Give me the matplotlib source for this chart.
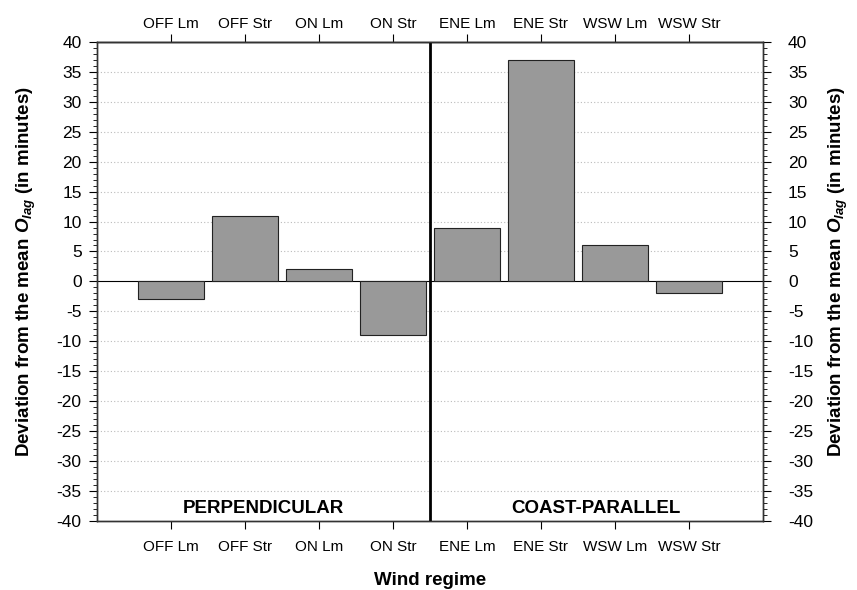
import matplotlib
matplotlib.use("Agg")
import matplotlib.pyplot as plt
from matplotlib.ticker import MultipleLocator

plt.rcParams["font.family"] = ["Liberation Sans", "DejaVu Sans"]
plt.rcParams["mathtext.fontset"] = "custom"
plt.rcParams["mathtext.rm"] = "Liberation Sans"
plt.rcParams["mathtext.bf"] = "Liberation Sans:bold"
plt.rcParams["mathtext.bfit"] = "Liberation Sans:bold:italic"
plt.rcParams["axes.unicode_minus"] = False

# ── data ──────────────────────────────────────────────────────────────────────
regimes    = ["OFF Lm", "OFF Str", "ON Lm", "ON Str",
              "ENE Lm", "ENE Str", "WSW Lm", "WSW Str"]
deviation  = [-3, 11, 2, -9, 9, 37, 6, -2]
group_names = ["PERPENDICULAR", "COAST-PARALLEL"]

ylabel = r"Deviation from the mean $\mathbfit{O}_{\mathbfit{lag}}$ (in minutes)"

fig = plt.figure(figsize=(8.57, 5.9), dpi=100)
ax = fig.add_axes([0.1132, 0.117, 0.777, 0.812])

x = list(range(len(regimes)))
ax.bar(x, deviation, width=0.9, color="#999999", edgecolor="#222222",
       linewidth=0.8, zorder=3)

ax.set_xlim(-1, 8)
ax.set_ylim(-40, 40)

# grid + zero line + split line
for y in range(-35, 40, 5):
    if y == 0:
        continue
    ax.axhline(y, color="#bbbbbb", linestyle=(0, (1, 2)), linewidth=0.8, zorder=1)
ax.axhline(0, color="black", linewidth=0.8, zorder=2)
ax.axvline(3.5, color="black", linewidth=2, zorder=4)

ax.text(1.25, -39.3, group_names[0], ha="center", va="bottom",
        fontsize=13.5, fontweight="bold")
ax.text(5.75, -39.3, group_names[1], ha="center", va="bottom",
        fontsize=13.5, fontweight="bold")

# bottom + top category labels
ax.set_xticks(x)
ax.set_xticklabels(regimes)
ax.tick_params(axis="x", direction="out", length=5.5, labelsize=11, pad=8.5)
top = ax.secondary_xaxis("top")
top.set_xticks(x)
top.set_xticklabels(regimes)
top.tick_params(axis="x", direction="out", length=5.5, labelsize=11, pad=2)
top.spines["top"].set_linewidth(1.0)
top.spines["top"].set_color("#333333")

ax.yaxis.set_major_locator(MultipleLocator(5))
ax.yaxis.set_minor_locator(MultipleLocator(1))
ax.tick_params(axis="y", which="major", direction="out", length=6,
               labelsize=12.5, pad=5)
ax.tick_params(axis="y", which="minor", direction="out", length=3)
ax.set_ylabel(ylabel, fontsize=13.5, fontweight="bold")
ax.yaxis.set_label_coords(-0.088, 0.52)
ax.set_xlabel("Wind regime", fontsize=13.5, fontweight="bold")
ax.xaxis.set_label_coords(0.5, -0.106)

ax2 = ax.twinx()
ax2.set_ylim(-40, 40)
ax2.yaxis.set_major_locator(MultipleLocator(5))
ax2.yaxis.set_minor_locator(MultipleLocator(1))
ax2.tick_params(axis="y", which="major", direction="out", length=6,
                labelsize=12.5, pad=12)
ax2.tick_params(axis="y", which="minor", direction="out", length=3)
ax2.set_ylabel(ylabel, fontsize=13.5, fontweight="bold")
ax2.yaxis.set_label_coords(1.096, 0.52)

for a in (ax, ax2):
    for s in a.spines.values():
        s.set_linewidth(1.0)
        s.set_color("#333333")

fig.savefig("out.png", dpi=100)
plt.close()
